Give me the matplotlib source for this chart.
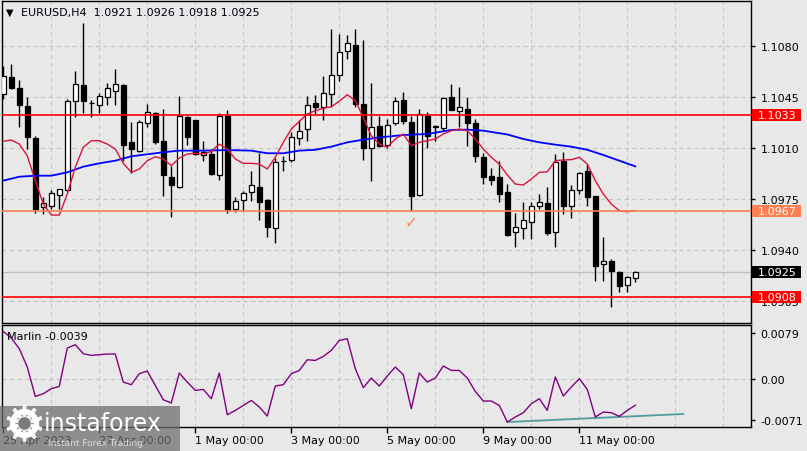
import matplotlib
matplotlib.use('Agg')
import matplotlib.pyplot as plt
import matplotlib.transforms as mtransforms
from matplotlib.patches import Rectangle
from matplotlib.lines import Line2D
import numpy as np

# ---------------- data ----------------
symbol = "EURUSD,H4"
opens = [1.10473, 1.10587, 1.10514, 1.10390, 1.10171, 1.09699, 1.09706, 1.09782, 1.09814, 1.10427,
         1.10534, 1.10409, 1.10399, 1.10450, 1.10495, 1.10534, 1.10141, 1.10079, 1.10272, 1.10342,
         1.10148, 1.09905, 1.09836, 1.10313, 1.10294, 1.10054, 1.10061, 1.09919, 1.10324, 1.09683,
         1.09745, 1.09798, 1.09836, 1.09745, 1.09551, 1.10013, 1.10020, 1.10171, 1.10232, 1.10409,
         1.10381, 1.10473, 1.10605, 1.10770, 1.10809, 1.10404, 1.10102, 1.10255, 1.10123, 1.10274,
         1.10431, 1.10278, 1.09779, 1.10324, 1.10255, 1.10237, 1.10450, 1.10358, 1.10370, 1.10274,
         1.10038, 1.09912, 1.09901, 1.09800, 1.09524, 1.09551, 1.09596, 1.09706, 1.09725, 1.09528,
         1.10015, 1.09702, 1.09814, 1.09944, 1.09771, 1.09304, 1.09327, 1.09249, 1.09162, 1.0921]
highs = [1.10667, 1.10679, 1.10569, 1.10450, 1.10184, 1.09764, 1.09814, 1.09823, 1.10438, 1.10628,
         1.10958, 1.10431, 1.10477, 1.10546, 1.10644, 1.10539, 1.10278, 1.10294, 1.10404, 1.10347,
         1.10370, 1.09981, 1.10461, 1.10324, 1.10294, 1.10148, 1.10095, 1.10340, 1.10363, 1.09768,
         1.09809, 1.09946, 1.10066, 1.09750, 1.10033, 1.10049, 1.10210, 1.10294, 1.10461, 1.10468,
         1.10598, 1.10919, 1.10884, 1.10880, 1.10919, 1.10843, 1.10546, 1.10324, 1.10301, 1.10450,
         1.10484, 1.10320, 1.10370, 1.10351, 1.10260, 1.10450, 1.10541, 1.10519, 1.10450, 1.10301,
         1.10068, 1.09963, 1.10015, 1.09855, 1.09656, 1.09729, 1.09729, 1.09786, 1.09832, 1.10061,
         1.10073, 1.09848, 1.09939, 1.09992, 1.09775, 1.09489, 1.09340, 1.09260, 1.09226, 1.0926]
lows = [1.10438, 1.10507, 1.10248, 1.10095, 1.09656, 1.09649, 1.09683, 1.09683, 1.09805, 1.10317,
        1.10340, 1.10317, 1.10344, 1.10399, 1.10399, 1.10015, 1.09928, 1.10073, 1.10248, 1.10129,
        1.09775, 1.09631, 1.09828, 1.10125, 1.10056, 1.10011, 1.09919, 1.09882, 1.09654, 1.09661,
        1.09672, 1.09736, 1.09608, 1.09489, 1.09448, 1.09946, 1.10004, 1.10125, 1.10148, 1.10335,
        1.10294, 1.10385, 1.10564, 1.10713, 1.10385, 1.10020, 1.09873, 1.10107, 1.10100, 1.10260,
        1.10267, 1.09672, 1.09771, 1.10100, 1.10152, 1.10221, 1.10365, 1.10244, 1.10114, 1.10004,
        1.09855, 1.09848, 1.09729, 1.09500, 1.09421, 1.09478, 1.09478, 1.09683, 1.09505, 1.09421,
        1.09649, 1.09620, 1.09786, 1.09702, 1.09191, 1.09191, 1.09009, 1.09112, 1.09116, 1.0918]
closes = [1.10598, 1.10514, 1.10399, 1.10180, 1.09683, 1.09723, 1.09791, 1.09819, 1.10423, 1.10541,
          1.10423, 1.10411, 1.10457, 1.10514, 1.10541, 1.10125, 1.10095, 1.10278, 1.10347, 1.10141,
          1.09919, 1.09850, 1.10320, 1.10180, 1.10061, 1.10073, 1.09924, 1.10324, 1.09677, 1.09740,
          1.09791, 1.09850, 1.09729, 1.09558, 1.10004, 1.10016, 1.10180, 1.10221, 1.10399, 1.10385,
          1.10477, 1.10603, 1.10759, 1.10821, 1.10404, 1.10100, 1.10248, 1.10118, 1.10260, 1.10423,
          1.10289, 1.09771, 1.10335, 1.10186, 1.10248, 1.10443, 1.10365, 1.10381, 1.10274, 1.10049,
          1.09901, 1.09884, 1.09786, 1.09505, 1.09558, 1.09610, 1.09702, 1.09729, 1.09519, 1.10008,
          1.09706, 1.09816, 1.09928, 1.09764, 1.09290, 1.09329, 1.09260, 1.09153, 1.09219, 1.0925]

fast_ma = [1.10148, 1.10157, 1.10129, 1.10049, 1.09878, 1.09718, 1.09642, 1.09642, 1.09786, 1.09970,
           1.10107, 1.10152, 1.10152, 1.10129, 1.10095, 1.09997, 1.09935, 1.09958, 1.10015, 1.10042,
           1.10027, 1.09981, 1.10033, 1.10061, 1.10066, 1.10061, 1.10079, 1.10129, 1.10095, 1.10027,
           1.09997, 1.09997, 1.09992, 1.09958, 1.10038, 1.10141, 1.10232, 1.10285, 1.10335, 1.10358,
           1.10375, 1.10385, 1.10423, 1.10468, 1.10427, 1.10313, 1.10186, 1.10129, 1.10107, 1.10164,
           1.10198, 1.10118, 1.10141, 1.10152, 1.10164, 1.10198, 1.10221, 1.10232, 1.10221, 1.10164,
           1.10095, 1.10038, 1.09992, 1.09917, 1.09855, 1.09848, 1.09889, 1.09935, 1.09939, 1.10015,
           1.10020, 1.10022, 1.10038, 1.09992, 1.09878, 1.09786, 1.09718, 1.09672, 1.09665, 1.09672]

slow_ma_idx = [0, 2, 4, 6, 8, 10, 12, 14, 16, 20, 22, 25, 28, 31, 33, 35, 37, 39, 41, 43, 45, 47,
               50, 53, 56, 58, 60, 63, 65, 67, 69, 71, 73, 75, 77, 79]
slow_ma = [1.09878, 1.09905, 1.09912, 1.09912, 1.09935, 1.09974, 1.09997, 1.10015, 1.10045, 1.10073,
           1.10084, 1.10084, 1.10088, 1.10084, 1.10066, 1.10066, 1.10084, 1.10090, 1.10111, 1.10141,
           1.10159, 1.10175, 1.10191, 1.10198, 1.10226, 1.10228, 1.10221, 1.10195, 1.10164, 1.10141,
           1.10125, 1.10111, 1.10090, 1.10054, 1.10015, 1.09976]

marlin = [0.00696, 0.00599, 0.00441, 0.00172, -0.00260, -0.00221, -0.00147, -0.00113, 0.00451, 0.00500,
          0.00368, 0.00343, 0.00353, 0.00363, 0.00363, -0.00049, -0.00088, 0.00074, 0.00113, -0.00099,
          -0.00309, -0.00357, 0.00084, -0.00049, -0.00172, -0.00157, -0.00294, 0.00084, -0.00529, -0.00466,
          -0.00393, -0.00319, -0.00416, -0.00549, -0.00107, -0.00088, 0.00074, 0.00122, 0.00279, 0.00269,
          0.00328, 0.00416, 0.00563, 0.00588, 0.00147, -0.00132, 0.00010, -0.00107, 0.00040, 0.00172,
          0.00059, -0.00441, 0.00084, -0.00049, 0.00010, 0.00187, 0.00122, 0.00122, 0.00010, -0.00187,
          -0.00328, -0.00328, -0.00393, -0.00637, -0.00563, -0.00500, -0.00368, -0.00294, -0.00466, 0.00025,
          -0.00254, -0.00122, 0.00000, -0.00157, -0.00563, -0.00490, -0.00500, -0.00554, -0.00466, -0.00390]

trend_idx = [63, 85]
trend_val = [-0.00637, -0.00519]

level_lines = [1.1033, 1.0967, 1.0908]
level_colors = ['#ff0000', '#ff7f50', '#ff0000']
price_ticks = [1.1080, 1.1045, 1.1010, 1.0975, 1.0940, 1.0905]
ind_ticks = [0.0079, 0.0, -0.0071]
ind_tick_labels = ['0.0079', '0.00', '-0.0071']
time_tick_idx = [0, 12, 24, 36, 48, 60, 72]
time_tick_labels = ['25 Apr 2023', '27 Apr 00:00', '1 May 00:00', '3 May 00:00',
                    '5 May 00:00', '9 May 00:00', '11 May 00:00']
check_idx, check_price = 51, 1.0960

# ---------------- figure ----------------
W, H = 807, 452
fig = plt.figure(figsize=(W / 100, H / 100), dpi=100)
bg = '#e8e8e8'
fig.patch.set_facecolor(bg)

def fx(px):
    return px / W

def fy(py):
    return 1 - py / H

L, R = 2, 751
ax = fig.add_axes([fx(L), fy(324), fx(R) - fx(L), fy(2) - fy(324)])
ax2 = fig.add_axes([fx(L), fy(428), fx(R) - fx(L), fy(326) - fy(428)])

xlim = (-0.16, 93.46)
grid_kw = dict(color='#c2c2c2', lw=0.8, linestyle=(0, (3.5, 3.5)), zorder=1)

for a in (ax, ax2):
    a.set_facecolor(bg)
    a.set_xlim(*xlim)
    for s in a.spines.values():
        s.set_color('black')
        s.set_linewidth(1)
    for k in range(6, 94, 6):
        a.axvline(k, **grid_kw)

# ---- main panel ----
ax.set_ylim(1.08901, 1.11111)
for p in price_ticks:
    ax.axhline(p, **grid_kw)

o = np.array(opens); h = np.array(highs); l = np.array(lows); c = np.array(closes)
idx = np.arange(len(o))
up = c >= o
ax.vlines(idx, l, h, color='black', lw=1, zorder=3)
body_h = np.maximum(np.abs(c - o), 0.000015)
ax.bar(idx, body_h, bottom=np.minimum(o, c), width=0.6,
       color=['white' if u else 'black' for u in up], edgecolor='black', linewidth=0.9, zorder=4)

ax.axhline(closes[-1], color='#c0c0c0', lw=1, zorder=2)
for lv, col in zip(level_lines, level_colors):
    ax.axhline(lv, color=col, lw=1.2, zorder=6)

ax.plot(slow_ma_idx, slow_ma, color='#0000ff', lw=1.3, zorder=5)
ax.plot(idx, fast_ma, color='#dc143c', lw=1.0, zorder=5)

ax.text(check_idx, check_price, '\u2713', color='#ff7f50', fontsize=11, fontweight='bold',
        ha='center', va='center', zorder=6)

ax.yaxis.tick_right()
ax.set_yticks(price_ticks)
ax.set_yticklabels([f'{p:.4f}' for p in price_ticks])
ax.tick_params(axis='y', direction='out', length=3, width=1, pad=4, labelsize=8, colors='black')
ax.tick_params(axis='x', bottom=False, labelbottom=False)

trans = mtransforms.blended_transform_factory(ax.transAxes, ax.transData)
def price_tag(val, fc):
    hh = 0.00083
    ax.add_patch(Rectangle((1.0009, val - hh / 2), 0.0658, hh, transform=trans, facecolor=fc,
                           edgecolor='none', clip_on=False, zorder=10))
    ax.text(1.0093, val, f'{val:.4f}', transform=trans, color='white', fontsize=8,
            va='center', ha='left', clip_on=False, zorder=11)

for lv, col in zip(level_lines, level_colors):
    price_tag(lv, col)
price_tag(closes[-1], 'black')

# ---- indicator panel ----
ylo, yhi = -0.0071, 0.0079
ax2.set_ylim(ylo, yhi)
ax2.axhline(0, **grid_kw)
ax2.plot(idx, marlin, color='#800080', lw=1.0, zorder=4)
ax2.plot(trend_idx, trend_val, color='#4f9c9c', lw=1.3, zorder=3)

span_px = 102.0
unit = (yhi - ylo) / span_px
tick_pos = [yhi - 8.3 * unit, 0.0, ylo + 7.3 * unit]
ax2.yaxis.tick_right()
ax2.set_yticks(tick_pos)
ax2.set_yticklabels(ind_tick_labels)
ax2.tick_params(axis='y', direction='out', length=3, width=1, pad=4, labelsize=8, colors='black')
ax2.set_xticks(time_tick_idx)
ax2.set_xticklabels(time_tick_labels)
ax2.tick_params(axis='x', direction='out', length=4, width=1, pad=2, labelsize=8, colors='black')
for lab in ax2.get_xticklabels():
    lab.set_ha('left')

ax2.text(fx(7), fy(337), f'Marlin {marlin[-1]:.4f}', transform=fig.transFigure, fontsize=8,
         color='black', va='center', ha='left', zorder=6)

# ---- header ----
fig.text(fx(6), fy(13), '\u25bc', fontsize=7, color='black', va='center', ha='left')
fig.text(fx(21), fy(13), f'{symbol}  {opens[-1]:.4f} {highs[-1]:.4f} {lows[-1]:.4f} {closes[-1]:.4f}',
         fontsize=8, color='#000010', va='center', ha='left')

# ---- watermark ----
fig.add_artist(Rectangle((0, fy(452)), fx(180), fy(407) - fy(452), transform=fig.transFigure,
                         facecolor='#6a6a6a', alpha=0.72, edgecolor='none', zorder=20))
fig.add_artist(Line2D([fx(24)], [fy(424)], marker='o', markersize=17, markerfacecolor='none',
                      markeredgecolor='white', markeredgewidth=4, transform=fig.transFigure, zorder=21))
fig.add_artist(Line2D([fx(24)], [fy(424)], marker=(10, 2, 0), markersize=26, markeredgecolor='white',
                      markeredgewidth=2.5, transform=fig.transFigure, zorder=21, alpha=0.9))
fig.add_artist(Line2D([fx(24)], [fy(424)], marker='o', markersize=9, markerfacecolor='#7a7a7a',
                      markeredgecolor='none', transform=fig.transFigure, zorder=22))
fig.text(fx(44), fy(424), 'instaforex', fontsize=17, color='white', va='center', ha='left', zorder=23)
fig.text(fx(48), fy(444), 'Instant Forex Trading', fontsize=6.5, color='#dcdcdc', va='center', ha='left', zorder=23)

fig.savefig('out.png', dpi=100, facecolor=bg)
